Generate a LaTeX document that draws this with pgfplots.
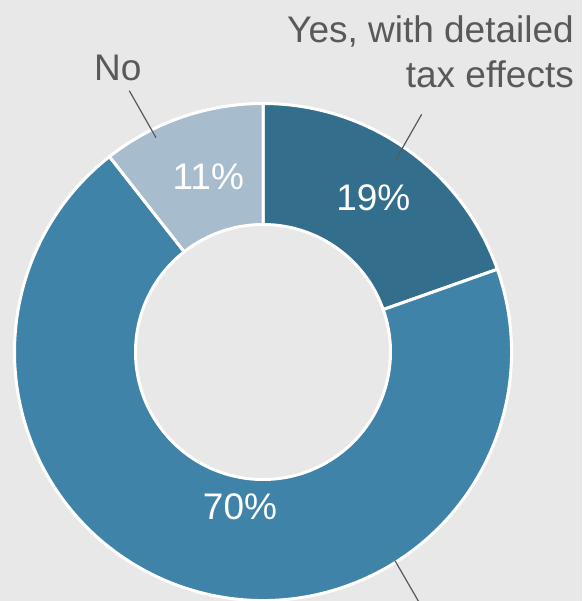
\documentclass[border=0pt]{standalone}
\usepackage{pgfplots}
\pgfplotsset{compat=1.18}
\usepackage{fontspec}
\setmainfont{Liberation Sans}
\definecolor{bg}{HTML}{E8E8E8}
\definecolor{cdark}{HTML}{336E8D}
\definecolor{cmed}{HTML}{3F83A8}
\definecolor{clight}{HTML}{A7BCCD}
\definecolor{txt}{HTML}{595959}
% shares (percent), clockwise from 12 o'clock
\def\vYes{19.6}
\def\vMid{69.8}
\def\vNo{10.6}
\pgfmathsetmacro{\aA}{90}
\pgfmathsetmacro{\aB}{\aA-3.6*\vYes}
\pgfmathsetmacro{\aC}{\aB-3.6*\vMid}
\pgfmathsetmacro{\aD}{\aC-3.6*\vNo}
\def\Ro{248.5}
\def\Ri{127.5}
\newcommand{\donutwedge}[3]{%
  \fill[#1, draw=white, line width=3pt, line join=round]
    ([shift={(#2:\Ro pt)}]axis cs:263,249) arc[start angle=#2, end angle=#3, radius=\Ro pt]
    -- ([shift={(#3:\Ri pt)}]axis cs:263,249) arc[start angle=#3, end angle=#2, radius=\Ri pt]
    -- cycle;}
\begin{document}
\begin{tikzpicture}
\begin{axis}[x=1pt, y=1pt, xmin=0, xmax=582, ymin=0, ymax=601,
  hide axis, clip=true]
  \fill[bg] (rel axis cs:0,0) rectangle (rel axis cs:1,1);
  \donutwedge{cdark}{\aA}{\aB}
  \donutwedge{cmed}{\aB}{\aC}
  \donutwedge{clight}{\aC}{\aD}
  \draw[txt, line width=1.2pt] (axis cs:421.7,486.7) -- (axis cs:396,441.7);
  \draw[txt, line width=1.2pt] (axis cs:129.3,510.3) -- (axis cs:156,463.3);
  \draw[txt, line width=1.2pt] (axis cs:395,40.3) -- (axis cs:421.2,-5);
  \begin{scope}[every node/.style={inner sep=0pt, font=\fontsize{37}{44}\selectfont}]
  \node[txt, anchor=base east] at (axis cs:574,558.3) {Yes, with detailed};
  \node[txt, anchor=base east] at (axis cs:574,513.7) {tax effects};
  \node[txt, anchor=base west] at (axis cs:94,520.3) {No};
  \node[white, anchor=base] at (axis cs:373.3,390.3) {19\%};
  \node[white, anchor=base] at (axis cs:208.3,411.7) {11\%};
  \node[white, anchor=base] at (axis cs:240,81) {70\%};
  \end{scope}
\end{axis}
\end{tikzpicture}
\end{document}
